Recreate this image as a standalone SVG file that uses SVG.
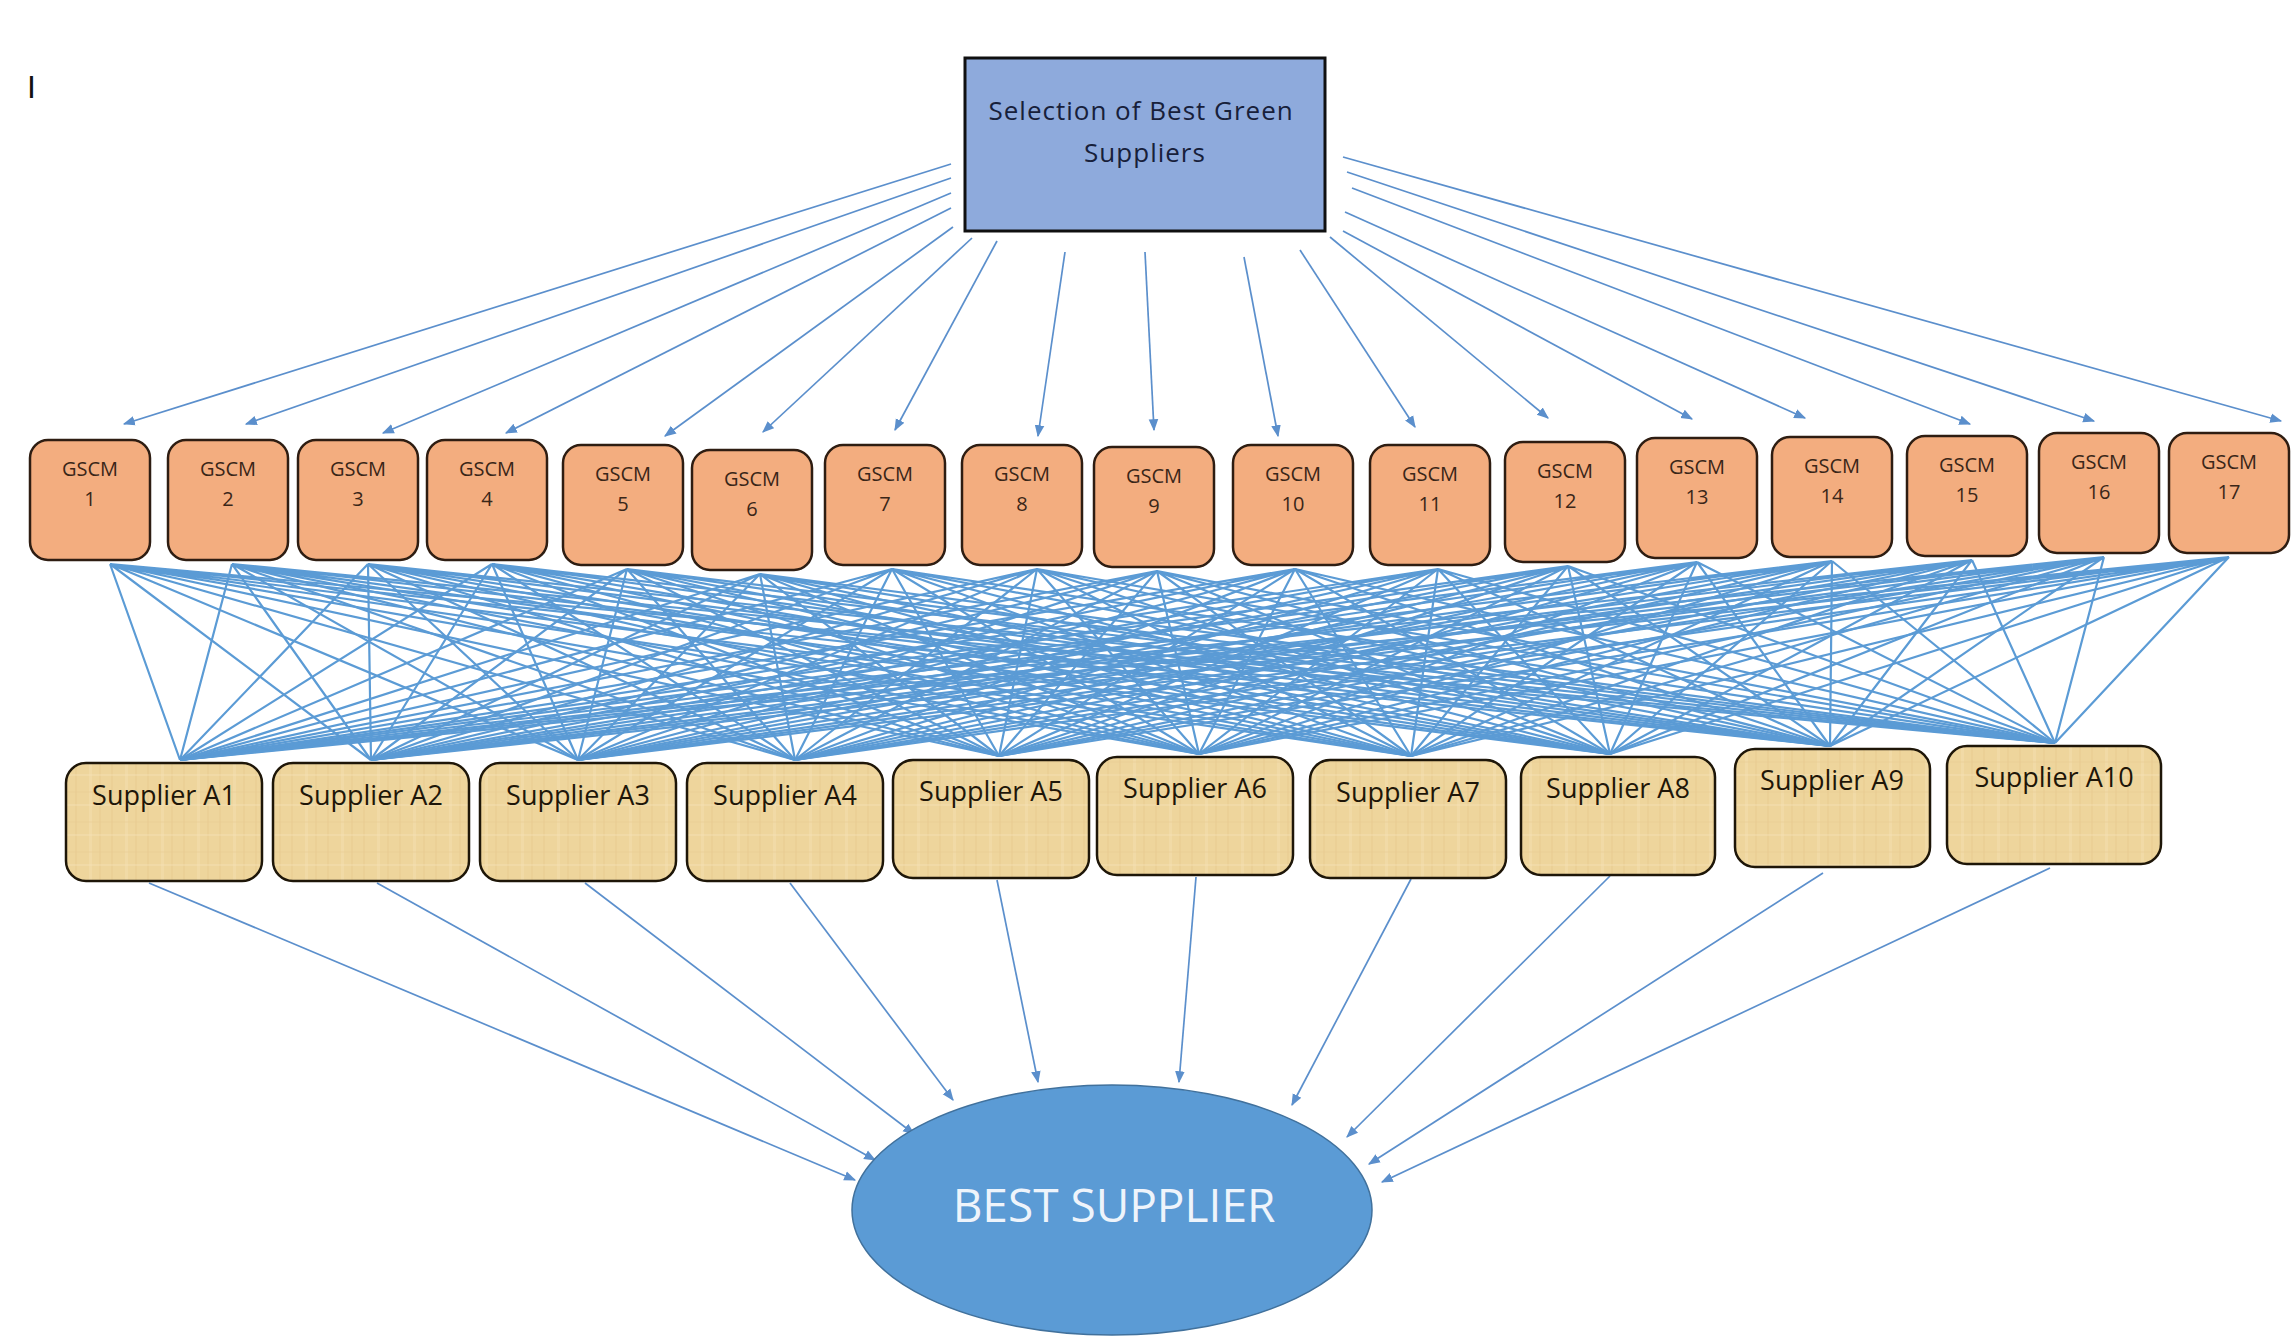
<svg xmlns="http://www.w3.org/2000/svg" width="2293" height="1336" viewBox="0 0 2293 1336">
<style>
.con{fill:none;stroke:#5b8fcc;stroke-width:1.7}
.fan{fill:none;stroke:#5b9bd5;stroke-width:2.2}
.gscm{fill:#f3ad7f;stroke:#2e1d12;stroke-width:2.5}
.gt{font-family:"Open Sans","Noto Sans",sans-serif;font-size:20px;fill:#3a2618;text-anchor:middle}
.sup{fill:url(#parch);stroke:#1e1608;stroke-width:2.5}
.st{font-family:"Open Sans","Noto Sans",sans-serif;font-size:27px;fill:#1e1608;text-anchor:middle}
</style>
<defs>
<marker id="ah" viewBox="0 0 10 10" refX="9" refY="5" markerWidth="12" markerHeight="12" markerUnits="userSpaceOnUse" orient="auto">
<path d="M0,1 L10,5 L0,9 z" fill="#5b8fcc"/>
</marker>
<pattern id="parch" width="36" height="30" patternUnits="userSpaceOnUse">
<rect width="36" height="30" fill="#eed59c"/>
<rect x="3" y="0" width="2" height="30" fill="#e6c88b" opacity="0.4"/>
<rect x="17" y="0" width="3" height="30" fill="#f4e0b0" opacity="0.5"/>
<rect x="27" y="0" width="2" height="30" fill="#e4c688" opacity="0.35"/>
<rect x="0" y="11" width="36" height="2" fill="#e8cc92" opacity="0.3"/>
<rect x="0" y="24" width="36" height="2" fill="#f4e2b6" opacity="0.4"/>
</pattern>
</defs>
<rect width="2293" height="1336" fill="#ffffff"/>
<text x="27" y="98" font-family="Liberation Sans, Arial, sans-serif" font-size="32" fill="#111">I</text>

<g id="connectors">
<g id="top-arrows" class="con" marker-end="url(#ah)">
<line x1="951" y1="164" x2="124" y2="424"/>
<line x1="951" y1="178" x2="246" y2="424"/>
<line x1="951" y1="193" x2="383" y2="433"/>
<line x1="951" y1="208" x2="506" y2="433"/>
<line x1="953" y1="227" x2="665" y2="436"/>
<line x1="972" y1="238" x2="763" y2="432"/>
<line x1="997" y1="241" x2="895" y2="430"/>
<line x1="1065" y1="252" x2="1038" y2="436"/>
<line x1="1145" y1="252" x2="1154" y2="430"/>
<line x1="1244" y1="257" x2="1278" y2="436"/>
<line x1="1300" y1="250" x2="1415" y2="427"/>
<line x1="1330" y1="237" x2="1548" y2="418"/>
<line x1="1343" y1="231" x2="1692" y2="419"/>
<line x1="1345" y1="212" x2="1805" y2="418"/>
<line x1="1352" y1="188" x2="1970" y2="424"/>
<line x1="1347" y1="172" x2="2094" y2="421"/>
<line x1="1343" y1="157" x2="2281" y2="421"/>
</g>
<g id="fan" class="fan">
<path d="M110 564L180 760M110 564L371 760M110 564L578 760M110 564L795 760M110 564L999 756M110 564L1199 754M110 564L1411 756M110 564L1610 754M110 564L1830 746M110 564L2055 743"/>
<path d="M232 564L180 760M232 564L371 760M232 564L578 760M232 564L795 760M232 564L999 756M232 564L1199 754M232 564L1411 756M232 564L1610 754M232 564L1830 746M232 564L2055 743"/>
<path d="M368 564L180 760M368 564L371 760M368 564L578 760M368 564L795 760M368 564L999 756M368 564L1199 754M368 564L1411 756M368 564L1610 754M368 564L1830 746M368 564L2055 743"/>
<path d="M492 564L180 760M492 564L371 760M492 564L578 760M492 564L795 760M492 564L999 756M492 564L1199 754M492 564L1411 756M492 564L1610 754M492 564L1830 746M492 564L2055 743"/>
<path d="M627 569L180 760M627 569L371 760M627 569L578 760M627 569L795 760M627 569L999 756M627 569L1199 754M627 569L1411 756M627 569L1610 754M627 569L1830 746M627 569L2055 743"/>
<path d="M760 574L180 760M760 574L371 760M760 574L578 760M760 574L795 760M760 574L999 756M760 574L1199 754M760 574L1411 756M760 574L1610 754M760 574L1830 746M760 574L2055 743"/>
<path d="M892 569L180 760M892 569L371 760M892 569L578 760M892 569L795 760M892 569L999 756M892 569L1199 754M892 569L1411 756M892 569L1610 754M892 569L1830 746M892 569L2055 743"/>
<path d="M1037 569L180 760M1037 569L371 760M1037 569L578 760M1037 569L795 760M1037 569L999 756M1037 569L1199 754M1037 569L1411 756M1037 569L1610 754M1037 569L1830 746M1037 569L2055 743"/>
<path d="M1157 571L180 760M1157 571L371 760M1157 571L578 760M1157 571L795 760M1157 571L999 756M1157 571L1199 754M1157 571L1411 756M1157 571L1610 754M1157 571L1830 746M1157 571L2055 743"/>
<path d="M1295 569L180 760M1295 569L371 760M1295 569L578 760M1295 569L795 760M1295 569L999 756M1295 569L1199 754M1295 569L1411 756M1295 569L1610 754M1295 569L1830 746M1295 569L2055 743"/>
<path d="M1438 569L180 760M1438 569L371 760M1438 569L578 760M1438 569L795 760M1438 569L999 756M1438 569L1199 754M1438 569L1411 756M1438 569L1610 754M1438 569L1830 746M1438 569L2055 743"/>
<path d="M1568 566L180 760M1568 566L371 760M1568 566L578 760M1568 566L795 760M1568 566L999 756M1568 566L1199 754M1568 566L1411 756M1568 566L1610 754M1568 566L1830 746M1568 566L2055 743"/>
<path d="M1697 562L180 760M1697 562L371 760M1697 562L578 760M1697 562L795 760M1697 562L999 756M1697 562L1199 754M1697 562L1411 756M1697 562L1610 754M1697 562L1830 746M1697 562L2055 743"/>
<path d="M1832 561L180 760M1832 561L371 760M1832 561L578 760M1832 561L795 760M1832 561L999 756M1832 561L1199 754M1832 561L1411 756M1832 561L1610 754M1832 561L1830 746M1832 561L2055 743"/>
<path d="M1972 560L180 760M1972 560L371 760M1972 560L578 760M1972 560L795 760M1972 560L999 756M1972 560L1199 754M1972 560L1411 756M1972 560L1610 754M1972 560L1830 746M1972 560L2055 743"/>
<path d="M2104 557L180 760M2104 557L371 760M2104 557L578 760M2104 557L795 760M2104 557L999 756M2104 557L1199 754M2104 557L1411 756M2104 557L1610 754M2104 557L1830 746M2104 557L2055 743"/>
<path d="M2229 557L180 760M2229 557L371 760M2229 557L578 760M2229 557L795 760M2229 557L999 756M2229 557L1199 754M2229 557L1411 756M2229 557L1610 754M2229 557L1830 746M2229 557L2055 743"/>
</g>
<g id="bottom-arrows" class="con" marker-end="url(#ah)">
<line x1="149" y1="883" x2="855" y2="1180"/>
<line x1="377" y1="883" x2="875" y2="1160"/>
<line x1="585" y1="883" x2="914" y2="1134"/>
<line x1="790" y1="883" x2="953" y2="1100"/>
<line x1="997" y1="880" x2="1038" y2="1082"/>
<line x1="1196" y1="877" x2="1179" y2="1082"/>
<line x1="1411" y1="879" x2="1292" y2="1105"/>
<line x1="1610" y1="876" x2="1347" y2="1137"/>
<line x1="1823" y1="873" x2="1369" y2="1164"/>
<line x1="2050" y1="868" x2="1382" y2="1182"/>
</g>
</g>

<g id="root">
<rect x="965" y="58" width="360" height="173" fill="#8eaadc" stroke="#101010" stroke-width="3"/>
<text font-family="Open Sans, Noto Sans, sans-serif" font-size="26" fill="#17203a" text-anchor="middle" letter-spacing="1">
<tspan x="1145" y="120">Selection of Best Green</tspan>
<tspan x="1145" y="162">Suppliers</tspan>
</text>
</g>

<g id="gscm1"><rect class="gscm" x="30" y="440" width="120" height="120" rx="18"/><text class="gt" x="90" y="476">GSCM</text><text class="gt" x="90" y="506">1</text></g>
<g id="gscm2"><rect class="gscm" x="168" y="440" width="120" height="120" rx="18"/><text class="gt" x="228" y="476">GSCM</text><text class="gt" x="228" y="506">2</text></g>
<g id="gscm3"><rect class="gscm" x="298" y="440" width="120" height="120" rx="18"/><text class="gt" x="358" y="476">GSCM</text><text class="gt" x="358" y="506">3</text></g>
<g id="gscm4"><rect class="gscm" x="427" y="440" width="120" height="120" rx="18"/><text class="gt" x="487" y="476">GSCM</text><text class="gt" x="487" y="506">4</text></g>
<g id="gscm5"><rect class="gscm" x="563" y="445" width="120" height="120" rx="18"/><text class="gt" x="623" y="481">GSCM</text><text class="gt" x="623" y="511">5</text></g>
<g id="gscm6"><rect class="gscm" x="692" y="450" width="120" height="120" rx="18"/><text class="gt" x="752" y="486">GSCM</text><text class="gt" x="752" y="516">6</text></g>
<g id="gscm7"><rect class="gscm" x="825" y="445" width="120" height="120" rx="18"/><text class="gt" x="885" y="481">GSCM</text><text class="gt" x="885" y="511">7</text></g>
<g id="gscm8"><rect class="gscm" x="962" y="445" width="120" height="120" rx="18"/><text class="gt" x="1022" y="481">GSCM</text><text class="gt" x="1022" y="511">8</text></g>
<g id="gscm9"><rect class="gscm" x="1094" y="447" width="120" height="120" rx="18"/><text class="gt" x="1154" y="483">GSCM</text><text class="gt" x="1154" y="513">9</text></g>
<g id="gscm10"><rect class="gscm" x="1233" y="445" width="120" height="120" rx="18"/><text class="gt" x="1293" y="481">GSCM</text><text class="gt" x="1293" y="511">10</text></g>
<g id="gscm11"><rect class="gscm" x="1370" y="445" width="120" height="120" rx="18"/><text class="gt" x="1430" y="481">GSCM</text><text class="gt" x="1430" y="511">11</text></g>
<g id="gscm12"><rect class="gscm" x="1505" y="442" width="120" height="120" rx="18"/><text class="gt" x="1565" y="478">GSCM</text><text class="gt" x="1565" y="508">12</text></g>
<g id="gscm13"><rect class="gscm" x="1637" y="438" width="120" height="120" rx="18"/><text class="gt" x="1697" y="474">GSCM</text><text class="gt" x="1697" y="504">13</text></g>
<g id="gscm14"><rect class="gscm" x="1772" y="437" width="120" height="120" rx="18"/><text class="gt" x="1832" y="473">GSCM</text><text class="gt" x="1832" y="503">14</text></g>
<g id="gscm15"><rect class="gscm" x="1907" y="436" width="120" height="120" rx="18"/><text class="gt" x="1967" y="472">GSCM</text><text class="gt" x="1967" y="502">15</text></g>
<g id="gscm16"><rect class="gscm" x="2039" y="433" width="120" height="120" rx="18"/><text class="gt" x="2099" y="469">GSCM</text><text class="gt" x="2099" y="499">16</text></g>
<g id="gscm17"><rect class="gscm" x="2169" y="433" width="120" height="120" rx="18"/><text class="gt" x="2229" y="469">GSCM</text><text class="gt" x="2229" y="499">17</text></g>

<g id="supA1"><rect class="sup" x="66" y="763" width="196" height="118" rx="20"/><text class="st" x="164" y="805">Supplier A1</text></g>
<g id="supA2"><rect class="sup" x="273" y="763" width="196" height="118" rx="20"/><text class="st" x="371" y="805">Supplier A2</text></g>
<g id="supA3"><rect class="sup" x="480" y="763" width="196" height="118" rx="20"/><text class="st" x="578" y="805">Supplier A3</text></g>
<g id="supA4"><rect class="sup" x="687" y="763" width="196" height="118" rx="20"/><text class="st" x="785" y="805">Supplier A4</text></g>
<g id="supA5"><rect class="sup" x="893" y="760" width="196" height="118" rx="20"/><text class="st" x="991" y="801">Supplier A5</text></g>
<g id="supA6"><rect class="sup" x="1097" y="757" width="196" height="118" rx="20"/><text class="st" x="1195" y="798">Supplier A6</text></g>
<g id="supA7"><rect class="sup" x="1310" y="760" width="196" height="118" rx="20"/><text class="st" x="1408" y="802">Supplier A7</text></g>
<g id="supA8"><rect class="sup" x="1521" y="757" width="194" height="118" rx="20"/><text class="st" x="1618" y="798">Supplier A8</text></g>
<g id="supA9"><rect class="sup" x="1735" y="749" width="195" height="118" rx="20"/><text class="st" x="1832" y="790">Supplier A9</text></g>
<g id="supA10"><rect class="sup" x="1947" y="746" width="214" height="118" rx="20"/><text class="st" x="2054" y="787">Supplier A10</text></g>

<g id="best">
<ellipse cx="1112" cy="1210" rx="260" ry="125" fill="#5b9bd5" stroke="#41719c" stroke-width="1.5"/>
<text x="1114" y="1222" font-family="Open Sans, Noto Sans, sans-serif" font-size="46" fill="#eef4fb" text-anchor="middle">BEST SUPPLIER</text>
</g>
</svg>
